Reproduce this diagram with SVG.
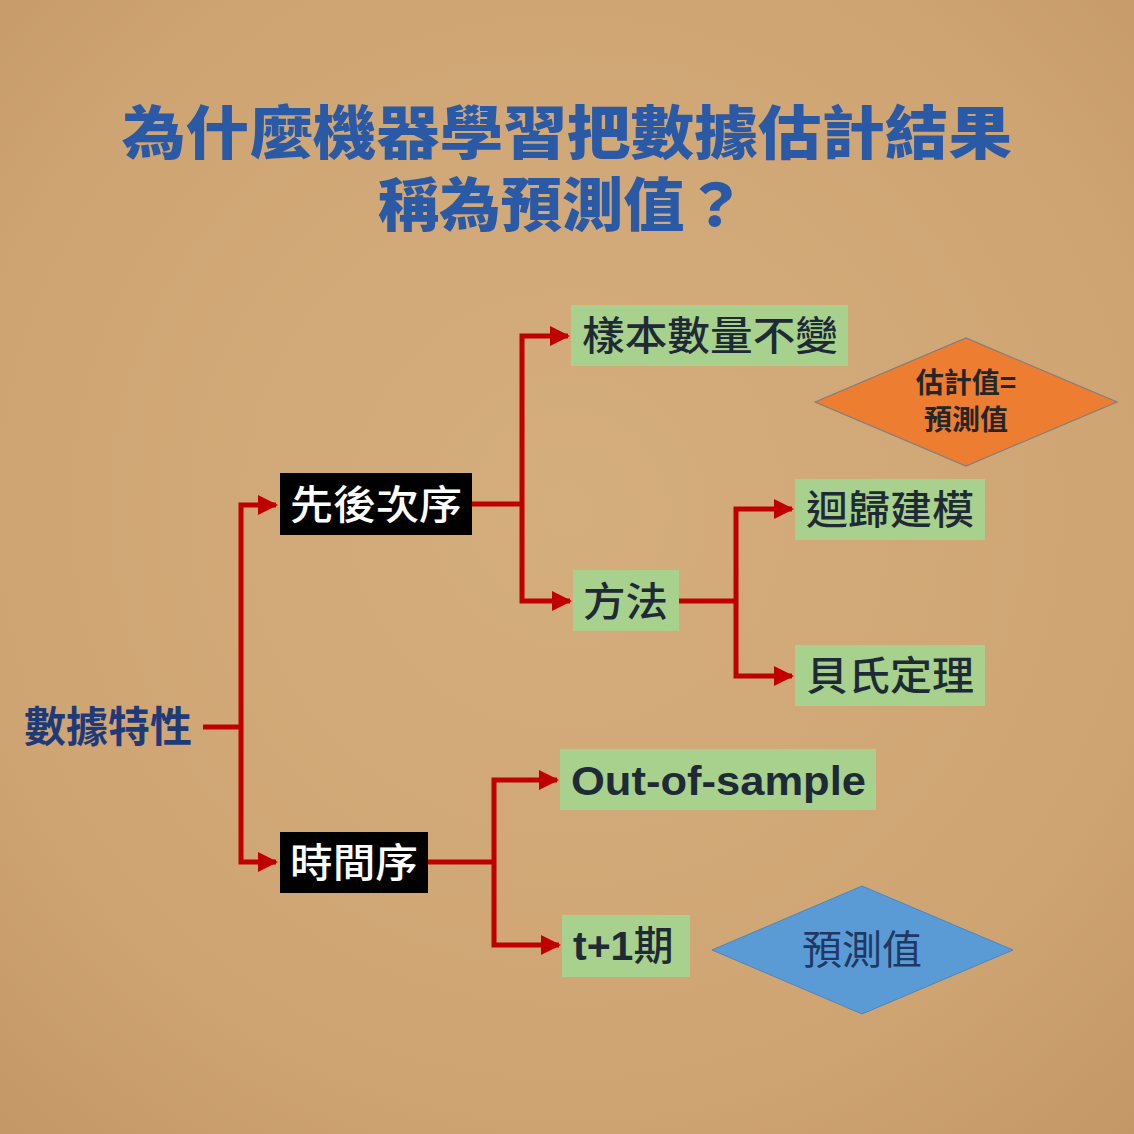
<svg xmlns="http://www.w3.org/2000/svg" width="1134" height="1134" viewBox="0 0 1134 1134">
<defs>
<radialGradient id="bg" cx="50%" cy="45%" r="75%">
<stop offset="0" stop-color="#d5ae7e"/>
<stop offset="0.7" stop-color="#cea472"/>
<stop offset="1" stop-color="#c39866"/>
</radialGradient>
<marker id="ah" viewBox="0 0 10 10" refX="9" refY="5" markerWidth="4" markerHeight="4" orient="auto" markerUnits="strokeWidth">
<path d="M0,0 L10,5 L0,10 z" fill="#c00000"/>
</marker>
<style>
.title{font-family:"Noto Sans CJK TC","Noto Sans CJK SC",sans-serif;font-weight:800;font-size:58px;fill:#2a5aa6;text-anchor:middle}
.dark{fill:#000}
.green{fill:#a9d18e}
.wt{font-family:"Noto Sans CJK TC",sans-serif;font-size:40px;fill:#fff;font-weight:500}
.gt{font-family:"Noto Sans CJK TC",sans-serif;font-size:40px;fill:#1e2b36;font-weight:500}
.en{font-family:"Liberation Sans",Arial,sans-serif;font-weight:700;font-size:41px;fill:#1e2b36}
.conn{fill:none;stroke:#c00000;stroke-width:5}
</style>
</defs>
<rect x="0" y="0" width="1134" height="1134" fill="url(#bg)"/>

<g id="title">
<text class="title" x="567" y="154" textLength="890" lengthAdjust="spacingAndGlyphs">為什麼機器學習把數據估計結果</text>
<text class="title" x="562" y="226" textLength="368" lengthAdjust="spacingAndGlyphs">稱為預測值？</text>
</g>

<g id="connectors">
<polyline class="conn" points="203,727 241,727"/>
<polyline class="conn" points="241,727 241,505 276,505" marker-end="url(#ah)"/>
<polyline class="conn" points="241,727 241,862 276,862" marker-end="url(#ah)"/>
<polyline class="conn" points="472,504 522,504"/>
<polyline class="conn" points="522,504 522,336 568,336" marker-end="url(#ah)"/>
<polyline class="conn" points="522,504 522,601 570,601" marker-end="url(#ah)"/>
<polyline class="conn" points="679,601 736,601"/>
<polyline class="conn" points="736,601 736,509 792,509" marker-end="url(#ah)"/>
<polyline class="conn" points="736,601 736,676 792,676" marker-end="url(#ah)"/>
<polyline class="conn" points="428,862 494,862"/>
<polyline class="conn" points="494,862 494,780 557,780" marker-end="url(#ah)"/>
<polyline class="conn" points="494,862 494,945 559,945" marker-end="url(#ah)"/>
</g>

<g id="node-root">
<text x="24" y="742" font-family="Noto Sans CJK TC,sans-serif" font-weight="700" font-size="42" fill="#1f3a78" textLength="168" lengthAdjust="spacingAndGlyphs">數據特性</text>
</g>

<g id="node-order">
<rect class="dark" x="280" y="473" width="192" height="62"/>
<text class="wt" x="290" y="519" textLength="172" lengthAdjust="spacingAndGlyphs">先後次序</text>
</g>

<g id="node-time">
<rect class="dark" x="280" y="832" width="148" height="61"/>
<text class="wt" x="290" y="877" textLength="128" lengthAdjust="spacingAndGlyphs">時間序</text>
</g>

<g id="node-sample">
<rect class="green" x="571" y="305" width="277" height="61"/>
<text class="gt" x="582" y="350" textLength="256" lengthAdjust="spacingAndGlyphs">樣本數量不變</text>
</g>

<g id="node-method">
<rect class="green" x="573" y="570" width="106" height="61"/>
<text class="gt" x="583" y="616" textLength="85" lengthAdjust="spacingAndGlyphs">方法</text>
</g>

<g id="node-regression">
<rect class="green" x="795" y="479" width="190" height="61"/>
<text class="gt" x="806" y="524" textLength="168" lengthAdjust="spacingAndGlyphs">迴歸建模</text>
</g>

<g id="node-bayes">
<rect class="green" x="795" y="645" width="190" height="61"/>
<text class="gt" x="806" y="690" textLength="168" lengthAdjust="spacingAndGlyphs">貝氏定理</text>
</g>

<g id="node-oos">
<rect class="green" x="560" y="749" width="316" height="61"/>
<text class="en" x="571" y="795" textLength="295" lengthAdjust="spacingAndGlyphs">Out-of-sample</text>
</g>

<g id="node-t1">
<rect class="green" x="562" y="915" width="128" height="62"/>
<text x="573" y="960"><tspan class="en">t+1</tspan><tspan class="gt">期</tspan></text>
</g>

<g id="node-estimate">
<polygon points="815,402 966,338 1117,402 966,466" fill="#ed7d31" stroke="#7f7f7f" stroke-width="1.2"/>
<text x="966" y="393" text-anchor="middle" font-family="Noto Sans CJK TC,sans-serif" font-weight="700" font-size="28" fill="#262626">估計值=</text>
<text x="966" y="430" text-anchor="middle" font-family="Noto Sans CJK TC,sans-serif" font-weight="700" font-size="28" fill="#262626">預測值</text>
</g>

<g id="node-predict">
<polygon points="712,950 862,886 1013,950 862,1014" fill="#5b9bd5" stroke="#4a86c0" stroke-width="1"/>
<text x="862" y="964" text-anchor="middle" font-family="Noto Sans CJK TC,sans-serif" font-weight="400" font-size="40" fill="#1f3864">預測值</text>
</g>
</svg>
